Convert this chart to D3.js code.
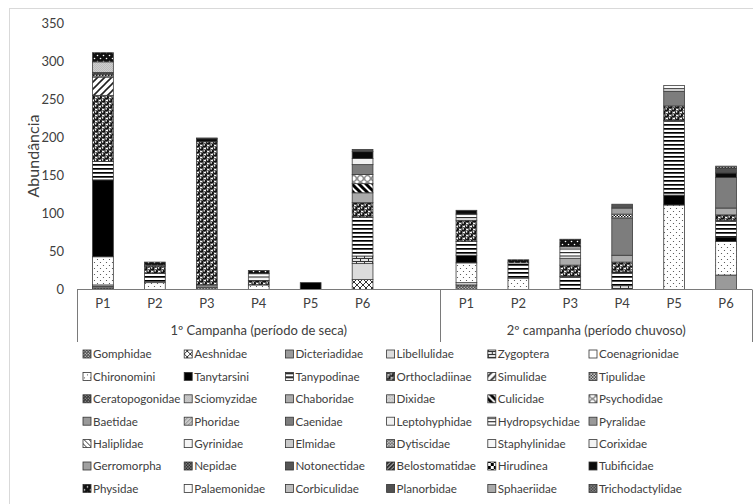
<!DOCTYPE html>
<html>
<head>
<meta charset="utf-8">
<script src="https://cdn.jsdelivr.net/npm/d3@7"></script>
<style>
body { margin: 0; background: #fff; }
svg { font-family: Lato, "Open Sans", sans-serif; }
</style>
</head>
<body>
<div id="chart"></div>
<script>
var campaigns = ["1º Campanha (período de seca)", "2º campanha (período chuvoso)"];
var sites = ["P1", "P2", "P3", "P4", "P5", "P6"];
var taxa = ["Gomphidae", "Aeshnidae", "Dicteriadidae", "Libellulidae", "Zygoptera", "Coenagrionidae",
  "Chironomini", "Tanytarsini", "Tanypodinae", "Orthocladiinae", "Simulidae", "Tipulidae",
  "Ceratopogonidae", "Sciomyzidae", "Chaboridae", "Dixidae", "Culicidae", "Psychodidae",
  "Baetidae", "Phoridae", "Caenidae", "Leptohyphidae", "Hydropsychidae", "Pyralidae",
  "Haliplidae", "Gyrinidae", "Elmidae", "Dytiscidae", "Staphylinidae", "Corixidae",
  "Gerromorpha", "Nepidae", "Notonectidae", "Belostomatidae", "Hirudinea", "Tubificidae",
  "Physidae", "Palaemonidae", "Corbiculidae", "Planorbidae", "Sphaeriidae", "Trichodactylidae"];

// one row per taxon: campaign 1 P1..P6, then campaign 2 P1..P6
var abundance = [
  [2, 0, 3, 0, 0, 0,    6, 0, 0, 0, 0, 0],      // Gomphidae
  [0, 0, 0, 0, 0, 13,   0, 0, 0, 0, 0, 0],      // Aeshnidae
  [2, 0, 3, 0, 0, 0,    0, 0, 0, 0, 0, 19],     // Dicteriadidae
  [2, 0, 0, 0, 0, 21,   3, 0, 0, 0, 0, 0],      // Libellulidae
  [0, 0, 0, 0, 0, 10,   0, 0, 0, 5, 0, 0],      // Zygoptera
  [0, 0, 0, 0, 0, 0,    0, 0, 0, 0, 0, 0],      // Coenagrionidae
  [37, 9, 0, 6, 0, 0,   26, 15, 0, 0, 111, 44], // Chironomini
  [101, 0, 0, 0, 9, 0,  10, 0, 0, 0, 13, 6],    // Tanytarsini
  [24, 12, 0, 0, 0, 51, 18, 20, 17, 18, 98, 22],// Tanypodinae
  [87, 9, 188, 6, 0, 19, 28, 0, 15, 13, 19, 7], // Orthocladiinae
  [24, 0, 0, 0, 0, 0,   0, 0, 0, 0, 0, 0],      // Simulidae
  [3, 2, 0, 0, 0, 0,    0, 0, 0, 0, 0, 0],      // Tipulidae
  [3, 0, 0, 0, 0, 0,    0, 0, 0, 0, 0, 0],      // Ceratopogonidae
  [14, 0, 0, 0, 0, 0,   0, 0, 0, 0, 0, 0],      // Sciomyzidae
  [0, 0, 0, 0, 0, 13,   0, 0, 9, 9, 0, 9],      // Chaboridae
  [0, 0, 0, 0, 0, 0,    0, 0, 0, 0, 0, 0],      // Dixidae
  [0, 0, 0, 0, 0, 12,   0, 0, 0, 0, 0, 0],      // Culicidae
  [0, 0, 0, 0, 0, 12,   0, 0, 0, 0, 0, 0],      // Psychodidae
  [0, 0, 0, 0, 0, 0,    0, 0, 0, 0, 0, 0],      // Baetidae
  [0, 0, 0, 0, 0, 0,    0, 0, 0, 0, 0, 0],      // Phoridae
  [0, 0, 0, 0, 0, 13,   0, 0, 0, 49, 19, 40],   // Caenidae
  [0, 0, 0, 0, 0, 8,    0, 0, 0, 0, 0, 0],      // Leptohyphidae
  [0, 0, 0, 9, 0, 0,    8, 0, 15, 0, 0, 0],     // Hydropsychidae
  [0, 0, 0, 0, 0, 0,    0, 0, 0, 0, 0, 0],      // Pyralidae
  [0, 0, 0, 0, 0, 0,    0, 0, 0, 0, 0, 0],      // Haliplidae
  [0, 0, 0, 0, 0, 0,    0, 0, 0, 0, 0, 0],      // Gyrinidae
  [0, 0, 0, 0, 0, 0,    0, 0, 0, 0, 4, 0],      // Elmidae
  [0, 0, 0, 0, 0, 0,    0, 0, 0, 5, 0, 0],      // Dytiscidae
  [0, 0, 0, 0, 0, 0,    0, 0, 0, 0, 0, 0],      // Staphylinidae
  [0, 0, 0, 0, 0, 0,    0, 0, 0, 0, 0, 0],      // Corixidae
  [0, 0, 0, 0, 0, 0,    0, 0, 0, 8, 0, 0],      // Gerromorpha
  [0, 0, 0, 0, 0, 0,    0, 0, 0, 0, 0, 0],      // Nepidae
  [0, 0, 0, 0, 0, 0,    0, 0, 0, 5, 0, 0],      // Notonectidae
  [0, 0, 0, 0, 0, 0,    0, 0, 0, 0, 0, 0],      // Belostomatidae
  [0, 0, 0, 0, 0, 0,    0, 0, 0, 0, 0, 0],      // Hirudinea
  [0, 0, 4, 0, 0, 9,    5, 0, 0, 0, 0, 6],      // Tubificidae
  [12, 4, 0, 4, 0, 0,   0, 4, 10, 0, 0, 0],     // Physidae
  [0, 0, 0, 0, 0, 0,    0, 0, 0, 0, 4, 0],      // Palaemonidae
  [0, 0, 0, 0, 0, 0,    0, 0, 0, 0, 0, 0],      // Corbiculidae
  [0, 0, 0, 0, 0, 3,    0, 0, 0, 0, 0, 6],      // Planorbidae
  [0, 0, 1, 0, 0, 0,    0, 0, 0, 0, 0, 0],      // Sphaeriidae
  [0, 0, 0, 0, 0, 0,    0, 0, 0, 0, 0, 3]       // Trichodactylidae
];
var yTicks = [0, 50, 100, 150, 200, 250, 300, 350];

// fill look for every taxon (Excel-like pattern fills)
var fillStyle = {
  Gomphidae: { type: "dots", bg: "#555", fg: "#fff", p: 3, r: 0.6 },
  Aeshnidae: { type: "cross", bg: "#fff", fg: "#333", p: 6, w: 1 },
  Dicteriadidae: { type: "solid", bg: "#9a9a9a" },
  Libellulidae: { type: "solid", bg: "#dcdcdc" },
  Zygoptera: { type: "brick", bg: "#e4e4e4", fg: "#333" },
  Coenagrionidae: { type: "solid", bg: "#fff" },
  Chironomini: { type: "dots", bg: "#fff", fg: "#444", p: 6, r: 0.6 },
  Tanytarsini: { type: "solid", bg: "#000" },
  Tanypodinae: { type: "hstripes", bg: "#fff", fg: "#000", p: 4, w: 1.7 },
  Orthocladiinae: { type: "spheres" },
  Simulidae: { type: "diag", bg: "#fff", fg: "#222", p: 7, w: 1.6, dir: 1 },
  Tipulidae: { type: "checker", bg: "#fff", fg: "#111", s: 1.5 },
  Ceratopogonidae: { type: "dots", bg: "#333", fg: "#ddd", p: 3, r: 0.6 },
  Sciomyzidae: { type: "dots", bg: "#cfcfcf", fg: "#a5a5a5", p: 2, r: 0.45 },
  Chaboridae: { type: "solid", bg: "#ababab" },
  Dixidae: { type: "dots", bg: "#ddd", fg: "#777", p: 3, r: 0.5 },
  Culicidae: { type: "diag", bg: "#fff", fg: "#000", p: 7, w: 3, dir: -1 },
  Psychodidae: { type: "circles", bg: "#fff", fg: "#8a8a8a", p: 7 },
  Baetidae: { type: "solid", bg: "#9a9a9a" },
  Phoridae: { type: "diag", bg: "#ccc", fg: "#888", p: 4, w: 1, dir: 1 },
  Caenidae: { type: "solid", bg: "#7d7d7d" },
  Leptohyphidae: { type: "solid", bg: "#f1f1f1" },
  Hydropsychidae: { type: "hstripes", bg: "#fff", fg: "#222", p: 3.5, w: 1.1 },
  Pyralidae: { type: "solid", bg: "#999" },
  Haliplidae: { type: "diag", bg: "#fff", fg: "#333", p: 5, w: 1, dir: -1 },
  Gyrinidae: { type: "solid", bg: "#f5f5f5" },
  Elmidae: { type: "solid", bg: "#c9c9c9" },
  Dytiscidae: { type: "dots", bg: "#fff", fg: "#000", p: 3, r: 0.8 },
  Staphylinidae: { type: "solid", bg: "#f7f7f7" },
  Corixidae: { type: "solid", bg: "#f3f3f3" },
  Gerromorpha: { type: "solid", bg: "#a0a0a0" },
  Nepidae: { type: "checker", bg: "#888", fg: "#222", s: 1.5 },
  Notonectidae: { type: "solid", bg: "#555" },
  Belostomatidae: { type: "diag", bg: "#333", fg: "#ccc", p: 4, w: 1, dir: 1 },
  Hirudinea: { type: "checker", bg: "#fff", fg: "#000", s: 3 },
  Tubificidae: { type: "solid", bg: "#0a0a0a" },
  Physidae: { type: "dots", bg: "#111", fg: "#fff", p: 6, r: 0.8 },
  Palaemonidae: { type: "solid", bg: "#fafafa" },
  Corbiculidae: { type: "solid", bg: "#bdbdbd" },
  Planorbidae: { type: "solid", bg: "#505050" },
  Sphaeriidae: { type: "solid", bg: "#aaa" },
  Trichodactylidae: { type: "checker", bg: "#999", fg: "#333", s: 1.5 }
};

var W = 753, H = 504;
var svg = d3.select("#chart").append("svg").attr("width", W).attr("height", H);
var defs = svg.append("defs");

function addPattern(id, f) {
  var p = defs.append("pattern").attr("id", id).attr("patternUnits", "userSpaceOnUse");
  if (f.type == "dots") {
    p.attr("width", f.p).attr("height", f.p);
    p.append("rect").attr("width", f.p).attr("height", f.p).attr("fill", f.bg);
    p.append("circle").attr("cx", f.p / 4).attr("cy", f.p / 4).attr("r", f.r).attr("fill", f.fg);
    p.append("circle").attr("cx", f.p * 3 / 4).attr("cy", f.p * 3 / 4).attr("r", f.r).attr("fill", f.fg);
  } else if (f.type == "hstripes") {
    p.attr("width", 4).attr("height", f.p);
    p.append("rect").attr("width", 4).attr("height", f.p).attr("fill", f.bg);
    p.append("rect").attr("width", 4).attr("height", f.w).attr("fill", f.fg);
  } else if (f.type == "diag" || f.type == "cross") {
    var s = f.p;
    p.attr("width", s).attr("height", s);
    p.append("rect").attr("width", s).attr("height", s).attr("fill", f.bg);
    var up = "M0," + s + "L" + s + ",0M-2,2L2,-2M" + (s - 2) + "," + (s + 2) + "L" + (s + 2) + "," + (s - 2);
    var down = "M0,0L" + s + "," + s + "M-2," + (s - 2) + "L2," + (s + 2) + "M" + (s - 2) + ",-2L" + (s + 2) + ",2";
    if (f.type == "cross" || f.dir == 1) p.append("path").attr("d", up).attr("stroke", f.fg).attr("stroke-width", f.w);
    if (f.type == "cross" || f.dir == -1) p.append("path").attr("d", down).attr("stroke", f.fg).attr("stroke-width", f.w);
  } else if (f.type == "checker") {
    p.attr("width", f.s * 2).attr("height", f.s * 2);
    p.append("rect").attr("width", f.s * 2).attr("height", f.s * 2).attr("fill", f.bg);
    p.append("rect").attr("width", f.s).attr("height", f.s).attr("fill", f.fg);
    p.append("rect").attr("x", f.s).attr("y", f.s).attr("width", f.s).attr("height", f.s).attr("fill", f.fg);
  } else if (f.type == "brick") {
    p.attr("width", 8).attr("height", 6);
    p.append("rect").attr("width", 8).attr("height", 6).attr("fill", f.bg);
    p.append("path").attr("d", "M0,0.5H8M0,3.5H8M0.5,0.5V3.5M4.5,3.5V6.5")
      .attr("stroke", f.fg).attr("stroke-width", 1).attr("fill", "none");
  } else if (f.type == "circles") {
    p.attr("width", f.p).attr("height", f.p);
    p.append("rect").attr("width", f.p).attr("height", f.p).attr("fill", f.bg);
    p.append("circle").attr("cx", f.p / 2).attr("cy", f.p / 2).attr("r", f.p / 2 - 0.6)
      .attr("fill", "#fff").attr("stroke", f.fg).attr("stroke-width", 1.4);
  } else if (f.type == "spheres") {
    // dark balls with a white highlight on a white net
    p.attr("width", 7).attr("height", 6);
    p.append("rect").attr("width", 7).attr("height", 6).attr("fill", "#fff");
    [[1.75, 1.5], [5.25, 4.5], [-1.75, 4.5], [8.75, 1.5], [1.75, 7.5], [5.25, -1.5]].forEach(function (c) {
      p.append("circle").attr("cx", c[0]).attr("cy", c[1]).attr("r", 2.3).attr("fill", "#111");
      p.append("circle").attr("cx", c[0] - 0.6).attr("cy", c[1] - 0.6).attr("r", 0.8).attr("fill", "#fff");
    });
  }
}

function fillOf(name, i) {
  var f = fillStyle[name];
  if (f.type == "solid") return f.bg;
  return "url(#pat" + i + ")";
}
taxa.forEach(function (t, i) {
  if (fillStyle[t].type != "solid") addPattern("pat" + i, fillStyle[t]);
});

// chart area border
svg.append("rect").attr("x", 9.5).attr("y", 8.5).attr("width", 770).attr("height", 520)
  .attr("fill", "none").attr("stroke", "#d9d9d9");

// slots: 6 sites, a blank slot, then 6 sites
var slots = [];
campaigns.forEach(function (c, ci) {
  sites.forEach(function (s) { slots.push(ci + "_" + s); });
  if (ci == 0) slots.push("0_gap");
});

var x = d3.scaleBand().domain(slots).range([77, 752]).paddingInner(0.6).paddingOuter(0.3);
var y = d3.scaleLinear().domain([0, 350]).range([289.5, 23]);

var rows = [];
campaigns.forEach(function (c, ci) {
  sites.forEach(function (s, si) {
    var r = { slot: ci + "_" + s };
    taxa.forEach(function (t, ti) { r[t] = abundance[ti][ci * 6 + si]; });
    rows.push(r);
  });
});

var series = d3.stack().keys(taxa)(rows);

svg.append("g").selectAll("g")
  .data(series)
  .join("g")
  .attr("fill", function (d, i) { return fillOf(d.key, i); })
  .selectAll("rect")
  .data(function (d) { return d.filter(function (v) { return v[1] - v[0] > 0; }); })
  .join("rect")
  .attr("x", function (d) { return x(d.data.slot); })
  .attr("width", x.bandwidth())
  .attr("y", function (d) { return y(d[1]); })
  .attr("height", function (d) { return y(d[0]) - y(d[1]); })
  .attr("stroke", "#3c3c3c")
  .attr("stroke-width", 0.8);

// y axis labels (no line, no ticks)
var yAxis = svg.append("g").attr("transform", "translate(64,0)")
  .call(d3.axisLeft(y).tickValues(yTicks).tickSize(0).tickPadding(0));
yAxis.select(".domain").remove();
yAxis.selectAll("text").attr("font-size", 13).attr("fill", "#404040").attr("font-family", "Lato, sans-serif");

svg.append("text")
  .attr("transform", "translate(39,156) rotate(-90)")
  .attr("text-anchor", "middle")
  .attr("font-size", 16)
  .attr("fill", "#404040")
  .text("Abundância");

// multi-level category axis
var axisG = svg.append("g").attr("stroke", "#7a7a7a").attr("stroke-width", 1);
axisG.append("line").attr("x1", 77).attr("x2", 752).attr("y1", 289.5).attr("y2", 289.5);
var groupEdges = [77, (x("0_gap") + x.bandwidth() + x("1_P1")) / 2, 752];
groupEdges.forEach(function (gx) {
  axisG.append("line").attr("x1", Math.round(gx) + 0.5).attr("x2", Math.round(gx) + 0.5)
    .attr("y1", 289.5).attr("y2", 342);
});

svg.append("g").selectAll("text")
  .data(rows)
  .join("text")
  .attr("x", function (d) { return x(d.slot) + x.bandwidth() / 2; })
  .attr("y", 308)
  .attr("text-anchor", "middle")
  .attr("font-size", 13)
  .attr("fill", "#404040")
  .text(function (d) { return d.slot.split("_")[1]; });

svg.append("g").selectAll("text")
  .data(campaigns)
  .join("text")
  .attr("x", function (d, i) { return (groupEdges[i] + groupEdges[i + 1]) / 2; })
  .attr("y", 335)
  .attr("text-anchor", "middle")
  .attr("font-size", 13)
  .attr("fill", "#404040")
  .text(function (d) { return d; });

// legend: 6 columns x 7 rows
var legend = svg.append("g").selectAll("g")
  .data(taxa)
  .join("g")
  .attr("transform", function (d, i) {
    return "translate(" + (83 + (i % 6) * 101.2) + "," + (354 + Math.floor(i / 6) * 22.4) + ")";
  });
legend.append("rect")
  .attr("x", 0).attr("y", -4).attr("width", 8).attr("height", 8)
  .attr("fill", function (d, i) { return fillOf(d, i); })
  .attr("stroke", "#333").attr("stroke-width", 0.8);
legend.append("text")
  .attr("x", 10).attr("y", 4.3)
  .attr("font-size", 11.6)
  .attr("fill", "#404040")
  .text(function (d) { return d; });
</script>
</body>
</html>
